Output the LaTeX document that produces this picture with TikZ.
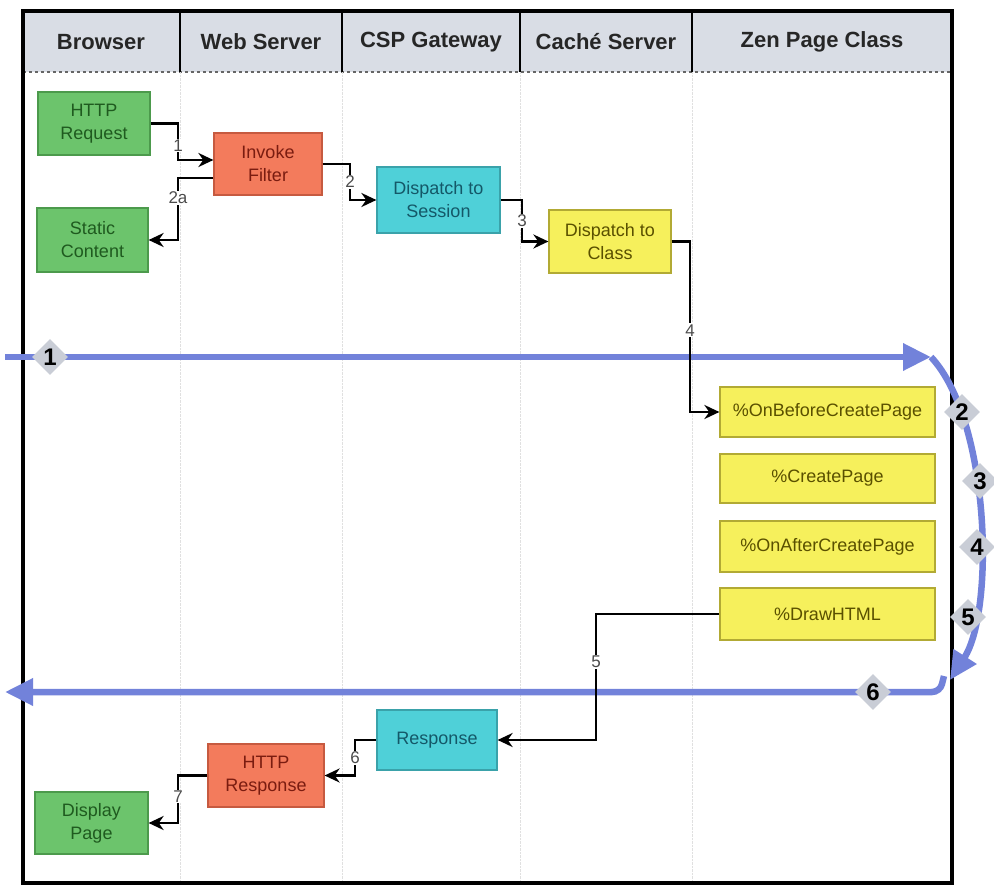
\documentclass[tikz,border=0pt]{standalone}
\usepackage{fontspec}
\setmainfont{Liberation Sans}
\usetikzlibrary{shapes.geometric,arrows.meta}
\definecolor{hdrgray}{HTML}{D9DDE5}
\definecolor{flowblue}{HTML}{7282DA}
\definecolor{badgegray}{HTML}{C9CDD6}
\definecolor{gfill}{HTML}{6CC46C}\definecolor{gdraw}{HTML}{4C9A4C}\definecolor{gtext}{HTML}{1F5A1F}
\definecolor{rfill}{HTML}{F37B5C}\definecolor{rdraw}{HTML}{C65A40}\definecolor{rtext}{HTML}{7A1C10}
\definecolor{cfill}{HTML}{4FD0D8}\definecolor{cdraw}{HTML}{3AA2AA}\definecolor{ctext}{HTML}{145868}
\definecolor{yfill}{HTML}{F6F05C}\definecolor{ydraw}{HTML}{B2AA34}\definecolor{ytext}{HTML}{5A5000}
\begin{document}
\begin{tikzpicture}[x=1pt,y=-1pt,
  box/.style={rectangle, draw, line width=1.2pt, inner sep=0pt, align=center, font=\fontsize{18}{23}\selectfont},
  greenbox/.style={box, fill=gfill, draw=gdraw, text=gtext},
  redbox/.style={box, fill=rfill, draw=rdraw, text=rtext},
  cyanbox/.style={box, fill=cfill, draw=cdraw, text=ctext},
  yellowbox/.style={box, fill=yfill, draw=ydraw, text=ytext, minimum width=215pt},
  lanehead/.style={font=\bfseries\fontsize{22}{26}\selectfont, text=black!85},
  link/.style={line width=2.5pt, -{Stealth[length=15pt,width=14pt]}},
  lbl/.style={fill=white, inner sep=1pt, font=\fontsize{17}{18}\selectfont, text=black!70},
  flow/.style={line width=6.5pt, flowblue, -{Triangle[length=28pt,width=26pt]}},
  badge/.style={diamond, fill=badgegray, minimum size=36pt, inner sep=0pt, font=\bfseries\fontsize{24}{24}\selectfont}]
\useasboundingbox (0,0) rectangle (994,886);
\fill[white] (0,0) rectangle (994,886);
% lanes
\fill[hdrgray] (23,11) rectangle (952,72);
\draw[line width=1.2pt, black!60, dashed] (23,72) -- (952,72);
\foreach \lx in {180,342,520,692}{
  \draw[line width=1.6pt] (\lx,11) -- (\lx,72);
  \draw[black!12, densely dotted] (\lx,72) -- (\lx,883);
}
\node[lanehead] (hbrowser) at (101,42){Browser};
\node[lanehead] (hweb) at (261,42){Web Server};
\node[lanehead] (hcsp) at (431,42){CSP Gateway};
\node[lanehead] (hcache) at (606,42){Caché Server};
\node[lanehead] (hzen) at (822,42){Zen Page Class};
\draw[line width=3.5pt] (23,11) rectangle (952,883);
% boxes
\node[greenbox, minimum width=112pt, minimum height=63pt] (httpreq) at (94,123.5){HTTP\\Request};
\node[greenbox, minimum width=111pt, minimum height=64pt] (static) at (92.5,240){Static\\Content};
\node[redbox, minimum width=108pt, minimum height=62pt] (invoke) at (268,164){Invoke\\Filter};
\node[cyanbox, minimum width=123pt, minimum height=66pt] (session) at (438.5,200){Dispatch to\\Session};
\node[yellowbox, minimum width=122pt, minimum height=63pt] (dclass) at (610,241.5){Dispatch to\\Class};
\node[yellowbox, minimum height=50pt] (onbefore) at (827.5,412){\%OnBeforeCreatePage};
\node[yellowbox, minimum height=49pt] (create) at (827.5,478.5){\%CreatePage};
\node[yellowbox, minimum height=51pt] (onafter) at (827.5,546.5){\%OnAfterCreatePage};
\node[yellowbox, minimum height=52pt] (drawhtml) at (827.5,614){\%DrawHTML};
\node[cyanbox, minimum width=120pt, minimum height=60pt] (response) at (437,740){Response};
\node[redbox, minimum width=116pt, minimum height=63pt] (httpresp) at (266,775.5){HTTP\\Response};
\node[greenbox, minimum width=113pt, minimum height=62pt] (display) at (91.5,823){Display\\Page};
% big flow
\coordinate (flowin) at (5,357);
\coordinate (flowtop) at (931,357);
\coordinate (flowbot) at (950,680);
\coordinate (flowout) at (5,692);
\draw[flow] (flowin) -- (flowtop);
\draw[flow] (flowtop) .. controls (990,420) and (995,610) .. (flowbot);
\draw[flow, rounded corners=8pt] ([xshift=-6pt,yshift=4pt]flowbot) -- (940,692) -- (flowout);
\node[badge] (b1) at (50,357){1};
\node[badge] (b2) at (962,412){2};
\node[badge] (b3) at (980,481){3};
\node[badge] (b4) at (977,547){4};
\node[badge] (b5) at (968,617){5};
\node[badge] (b6) at (873,692){6};
% links
\draw[link] (httpreq.east) -- (178,123.5) |- node[lbl, pos=.3]{1} ([yshift=4pt]invoke.west);
\draw[link] ([yshift=-14pt]invoke.west) -- (178,178) |- node[lbl, pos=.16]{2a} (static.east);
\draw[link] (invoke.east) -- (350,164) |- node[lbl, pos=.25]{2} (session.west);
\draw[link] (session.east) -- (522,200) |- node[lbl, pos=.25]{3} (dclass.west);
\draw[link] (dclass.east) -- (690,241.5) |- node[lbl, pos=.26]{4} (onbefore.west);
\draw[link] (drawhtml.west) -- (596,614) |- node[lbl, pos=.19]{5} (response.east);
\draw[link] (response.west) -- (355,740) |- node[lbl, pos=.25]{6} (httpresp.east);
\draw[link] (httpresp.west) -- (178,775.5) |- node[lbl, pos=.22]{7} (display.east);
\end{tikzpicture}
\end{document}
